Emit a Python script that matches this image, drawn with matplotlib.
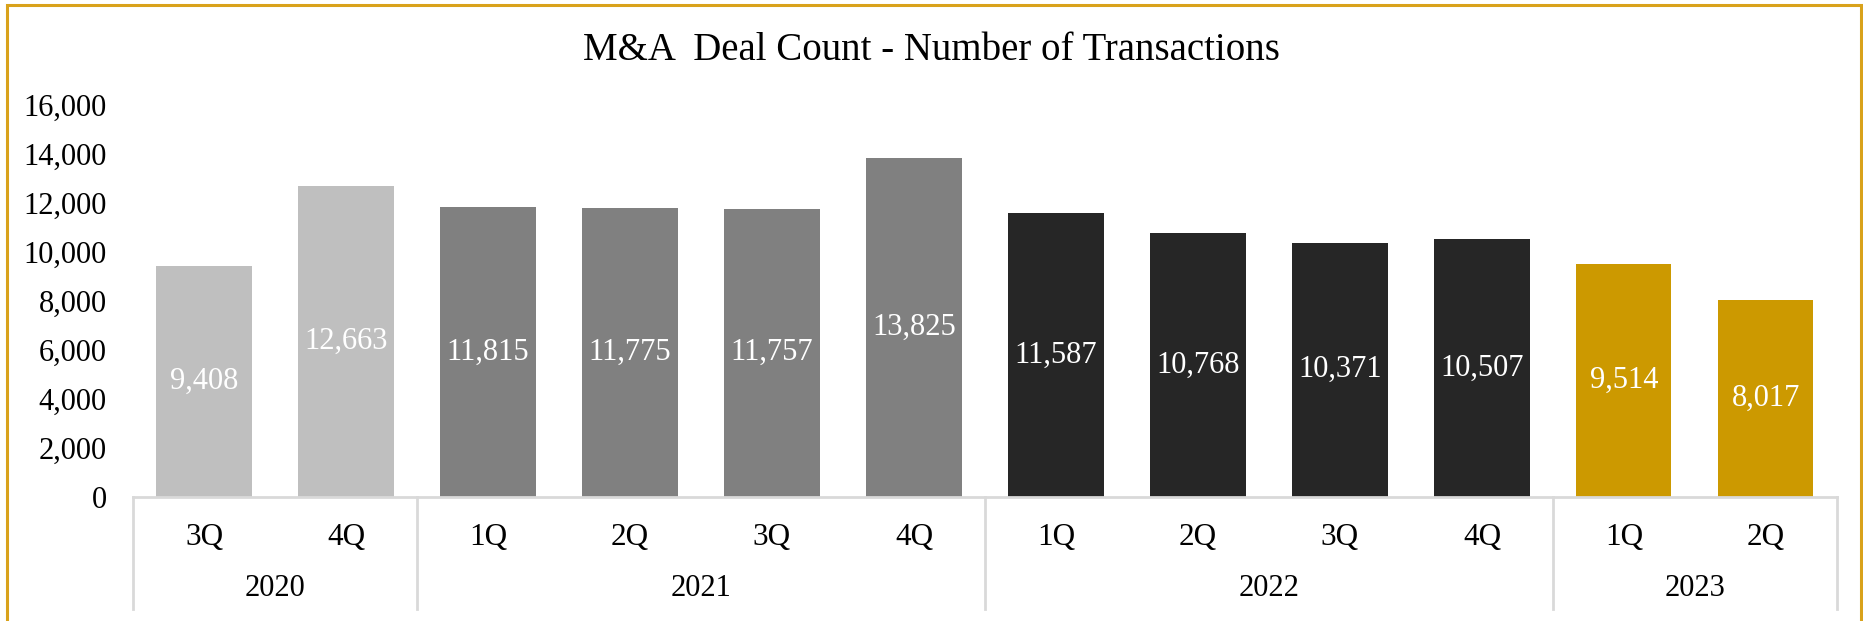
import matplotlib
matplotlib.use("Agg")
import matplotlib.pyplot as plt
from matplotlib.patches import Rectangle
from matplotlib.ticker import FuncFormatter

plt.rcParams["font.family"] = ["Liberation Serif", "DejaVu Serif"]

years = ["2020", "2021", "2022", "2023"]
quarters = ["3Q", "4Q", "1Q", "2Q", "3Q", "4Q", "1Q", "2Q", "3Q", "4Q", "1Q", "2Q"]
year_of_bar = [0, 0, 1, 1, 1, 1, 2, 2, 2, 2, 3, 3]
deal_count = [9408, 12663, 11815, 11775, 11757, 13825, 11587, 10768, 10371, 10507, 9514, 8017]
year_colors = ["#BFBFBF", "#808080", "#262626", "#CC9900"]

fig = plt.figure(figsize=(18.63, 6.21), dpi=100)
ax = fig.add_axes([0.0714, 0.1997, 0.9146, 0.632])

x = list(range(len(deal_count)))
colors = [year_colors[y] for y in year_of_bar]
bars = ax.bar(x, deal_count, width=0.67, color=colors)

for xi, v in zip(x, deal_count):
    ax.text(xi, v / 2, f"{v:,}", ha="center", va="center", color="white", fontsize=22)

ax.set_xlim(-0.5, len(x) - 0.5)
ax.set_ylim(0, 16000)
ax.set_yticks(range(0, 16001, 2000))
ax.yaxis.set_major_formatter(FuncFormatter(lambda v, p: f"{int(v):,}"))
ax.tick_params(axis="y", length=0, pad=19, labelsize=22)
ax.set_xticks([])
for s in ["top", "right", "left"]:
    ax.spines[s].set_visible(False)
ax.spines["bottom"].set_color("#D9D9D9")
ax.spines["bottom"].set_linewidth(2)

trans = ax.get_xaxis_transform()
sep_bottom = -0.285
# quarter labels
for xi, q in zip(x, quarters):
    ax.text(xi, -0.104, q, transform=trans, ha="center", va="center", fontsize=22.5)

# year labels and separators
bounds = [-0.5]
for i in range(1, len(year_of_bar)):
    if year_of_bar[i] != year_of_bar[i - 1]:
        bounds.append(i - 0.5)
bounds.append(len(x) - 0.5)
for yi, name in enumerate(years):
    mid = (bounds[yi] + bounds[yi + 1]) / 2
    ax.text(mid, -0.232, name, transform=trans, ha="center", va="center", fontsize=22)
for b in bounds:
    ax.plot([b, b], [0, sep_bottom], transform=trans, color="#D9D9D9", lw=2, clip_on=False)

fig.text(0.5, 0.918, "M&A  Deal Count - Number of Transactions", ha="center", va="center", fontsize=28)

border = Rectangle((7 / 1863, -0.1), (1861 - 7) / 1863, 1.1 - 5 / 621, transform=fig.transFigure,
                   fill=False, edgecolor="#D9A21B", lw=2.2, clip_on=False)
fig.patches.append(border)

fig.savefig("out.png", dpi=100)
